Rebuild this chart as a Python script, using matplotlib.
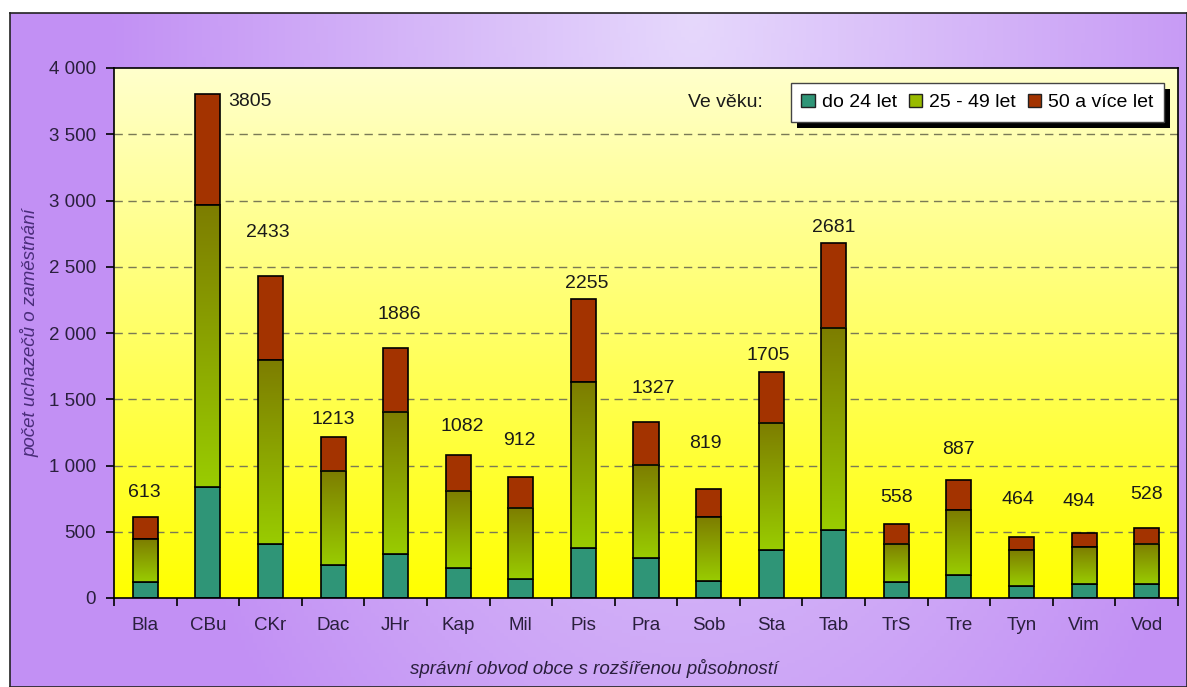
import numpy as np
import matplotlib
matplotlib.use("Agg")
import matplotlib.pyplot as plt
from matplotlib.colors import LinearSegmentedColormap, to_rgb
from matplotlib.patches import Rectangle, Patch
from matplotlib.ticker import FuncFormatter, FixedLocator

plt.rcParams['font.family'] = ['Liberation Sans', 'DejaVu Sans']

# ---------------- data ----------------
categories = ["Bla", "CBu", "CKr", "Dac", "JHr", "Kap", "Mil", "Pis", "Pra",
              "Sob", "Sta", "Tab", "TrS", "Tre", "Tyn", "Vim", "Vod"]
age_to24 = [121, 838, 405, 249, 332, 226, 143, 377, 302, 128, 362, 513, 121, 174, 91, 106, 106]
age_25_49 = [324, 2125, 1388, 710, 1072, 582, 537, 1250, 702, 481, 959, 1526, 287, 490, 271, 279, 302]
totals = [613, 3805, 2433, 1213, 1886, 1082, 912, 2255, 1327, 819, 1705, 2681, 558, 887, 464, 494, 528]
age_50plus = [t - a - b for t, a, b in zip(totals, age_to24, age_25_49)]
series_names = ["do 24 let", "25 - 49 let", "50 a více let"]
yticks = [0, 500, 1000, 1500, 2000, 2500, 3000, 3500, 4000]
# label placement offsets (pixels) for the total labels
label_dx = [-1, 42, -3, 0, 4, 4, -1, 3, 7, -3, -3, 0, 0, -1, -4, -5, 0]
label_dy = [24, -8, 43, 18, 34, 28, 37, 16, 34, 46, 17, 15, 27, 31, 37, 31, 34]

# ---------------- figure ----------------
W, H = 1187, 687
fig = plt.figure(figsize=(W / 100, H / 100), dpi=100, facecolor="white")

# purple background frame
bg = fig.add_axes([10 / W, 0, 1 - 10 / W, 1 - 13 / H], zorder=-10)
nx, ny = 300, 200
xx, yy = np.meshgrid(np.linspace(0, 1, nx), np.linspace(0, 1, ny))
t = np.clip(np.sqrt(((xx - 0.58) / 0.5) ** 2 + ((yy - 0.0) / 1.5) ** 2), 0, 1)
light = np.array(to_rgb("#e6d8fc"))
dark = np.array(to_rgb("#c290f4"))
img = light[None, None, :] * (1 - t[..., None]) + dark[None, None, :] * t[..., None]
bg.imshow(img, extent=[0, 1, 0, 1], aspect="auto", origin="upper")
bg.set_xlim(0, 1)
bg.set_ylim(0, 1)
bg.set_xticks([])
bg.set_yticks([])
for s in bg.spines.values():
    s.set_color("#222222")
    s.set_linewidth(1.2)

# plot area
left, right, top, bottom = 114, 1178, 68, 598
ax = fig.add_axes([left / W, 1 - bottom / H, (right - left) / W, (bottom - top) / H])
ax.set_facecolor("none")

# yellow gradient background of plot area
grad = np.linspace(0, 1, 256)[:, None]
ycmap = LinearSegmentedColormap.from_list("yel", ["#ffff00", "#ffff66", "#ffffcc"])
ax.imshow(grad, extent=[0, 1, 0, 1], transform=ax.transAxes, cmap=ycmap,
          aspect="auto", origin="lower", zorder=0)

x = np.arange(len(categories))
bw = 0.4
c_teal = "#2f9577"
c_red = "#a33300"
c_mid_top = "#7d7d00"
c_mid_bot = "#99cc00"

ax.bar(x, age_to24, bw, color=c_teal, edgecolor="black", linewidth=1.2, zorder=3)
mid = ax.bar(x, age_25_49, bw, bottom=age_to24, color="none", edgecolor="black",
             linewidth=1.2, zorder=4)
bottom2 = [a + b for a, b in zip(age_to24, age_25_49)]
ax.bar(x, age_50plus, bw, bottom=bottom2, color=c_red, edgecolor="black",
       linewidth=1.2, zorder=3)

gcmap = LinearSegmentedColormap.from_list("ol", [c_mid_bot, c_mid_top])
for p in mid.patches:
    x0, y0 = p.get_x(), p.get_y()
    w, h = p.get_width(), p.get_height()
    ax.imshow(grad, extent=[x0, x0 + w, y0, y0 + h], cmap=gcmap,
              aspect="auto", origin="lower", zorder=3.5)

for i, tot in enumerate(totals):
    ax.annotate(str(tot), xy=(x[i], tot), xytext=(label_dx[i], label_dy[i]),
                textcoords="offset pixels", ha="center", va="center",
                fontsize=14, color="#1a1a1a", zorder=6)

ax.set_xlim(-0.5, len(categories) - 0.5)
ax.set_ylim(0, 4000)

# grid
for yv in yticks[1:-1]:
    ax.axhline(yv, color="#7a7a55", linestyle=(0, (6, 4)), linewidth=1.0, zorder=1)

ax.set_yticks(yticks)
ax.yaxis.set_major_formatter(FuncFormatter(lambda v, p: f"{int(v):,}".replace(",", " ")))
ax.set_xticks(x)
ax.set_xticklabels(categories)
ax.xaxis.set_minor_locator(FixedLocator(np.arange(-0.5, len(categories), 1.0)))
ax.tick_params(axis="x", which="major", length=0, pad=14, labelsize=13.5, labelcolor="#2a1f3d")
ax.tick_params(axis="x", which="minor", length=6, width=1.2, direction="out", color="black")
ax.tick_params(axis="y", which="major", length=6, width=1.2, direction="out", pad=7,
               labelsize=13.5, labelcolor="#2a1f3d")
for s in ax.spines.values():
    s.set_color("black")
    s.set_linewidth(1.2)
    s.set_zorder(5)

# axis titles
fig.text(594 / W, 1 - 668 / H, "správní obvod obce s rozšířenou působností",
         ha="center", va="center", fontsize=13.5, style="italic", color="#2a1f3d")
fig.text(30 / W, 1 - 333 / H, "počet uchazečů o zaměstnání", rotation=90,
         ha="center", va="center", fontsize=13.5, style="italic", color="#4a2d7a")

# legend
handles = [Patch(facecolor=c_teal, edgecolor="#222222"),
           Patch(facecolor="#99bb00", edgecolor="#222222"),
           Patch(facecolor=c_red, edgecolor="#222222")]
leg = ax.legend(handles, series_names, loc="upper right", ncol=3,
                bbox_to_anchor=(1164 / W, 1 - 83 / H), bbox_transform=fig.transFigure,
                borderaxespad=0, fontsize=14, frameon=True, fancybox=False,
                handlelength=0.7, handleheight=0.7, handletextpad=0.35,
                columnspacing=0.6, borderpad=0.55)
leg.get_frame().set_edgecolor("#444444")
leg.get_frame().set_linewidth(1.0)
leg.get_frame().set_facecolor("white")
leg.get_frame().set_alpha(1)
leg.set_zorder(10)

fig.canvas.draw()
bb = leg.get_window_extent()
shadow = Rectangle((bb.x0 + 6, bb.y0 - 6), bb.width, bb.height, transform=None,
                   facecolor="black", edgecolor="none", zorder=9)
ax.add_artist(shadow)
shadow.set_clip_on(False)

fig.text((bb.x0 - 28) / W, (bb.y0 + bb.y1) / 2 / H, "Ve věku:", ha="right", va="center",
         fontsize=14, color="#1a1a1a")

fig.savefig("out.png", dpi=100, facecolor="white")
